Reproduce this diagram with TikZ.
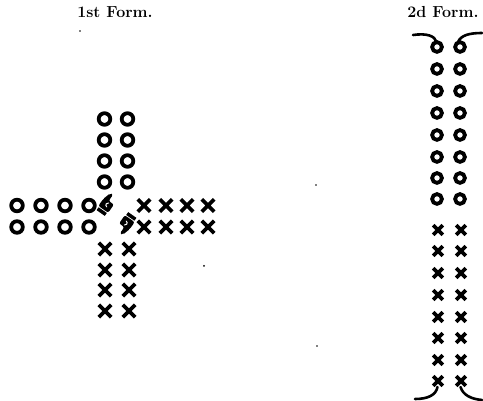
\documentclass[tikz,border=0pt]{standalone}
\usetikzlibrary{positioning}
\tikzset{
  % bold printer's marks, drawn in pixel units
  every picture/.append style = {x=1pt, y=-1pt, line cap=round},
  ring/.style      = {line width=3.8pt},
  crossline/.style = {line width=3.8pt, line cap=butt},
  curl/.style      = {line width=2.6pt, line cap=round},
  formtitle/.style = {font=\fontsize{16}{18}\selectfont\bfseries, inner sep=0pt},
  handmark/.style  = {fill=black, line join=round},
  speck/.style     = {fill=black},
}
\newcommand{\ringat}[3][5.8]{\draw[ring] (#2,#3) circle[radius=#1];}
\newcommand{\crossat}[3][6.2]{\draw[crossline] (#2-#1,#3-#1) -- (#2+#1,#3+#1)
                                            (#2-#1,#3+#1) -- (#2+#1,#3-#1);}
% a pointing hand, finger along +x, centred on the origin
\newcommand{\manicule}{%
  \fill[handmark] (-11,-5) rectangle (-7.5,5);
  \fill[handmark, rounded corners=2pt] (-6.5,-6) -- (2,-6) -- (11,-3.4)
       -- (11,-0.4) -- (3.5,-0.4) -- (3.5,6) -- (-6.5,6) -- cycle;
  \draw[white, line width=1pt] (-2.5,1.5) arc[start angle=180, end angle=340, radius=2.2];
}
\begin{document}
\begin{tikzpicture}
  \useasboundingbox (0,0) rectangle (483,401);
  % titles
  \node[formtitle] (title1) at (115,12) {1st Form.};
  \node[formtitle] (title2) at (443,12) {2d Form.};
  % 1st form: the cross
  \foreach \y in {119,140,161,182} {
    \ringat{104.5}{\y}
    \ringat{127.5}{\y}
  }
  \foreach \x in {17,41,65,89} {
    \ringat{\x}{205.5}
    \ringat{\x}{227}
  }
  \foreach \x in {144,166,187,208} {
    \crossat{\x}{205.5}
    \crossat{\x}{227}
  }
  \foreach \y in {249,270,290,311} {
    \crossat{105}{\y}
    \crossat{129}{\y}
  }
  % the two hands in the middle
  \begin{scope}[shift={(107,204)}, rotate=55]
    \manicule
  \end{scope}
  \begin{scope}[shift={(126,224)}, rotate=235]
    \manicule
  \end{scope}
  % 2d form: the column
  \begin{scope}
    \foreach \y in {47,69,91,113,135,157,178,199} {
      \ringat[4.9]{437}{\y}
      \ringat[4.9]{460}{\y}
    }
    \foreach \y in {230,251,273,295,317,338,360,381} {
      \crossat[4.8]{438}{\y}
      \crossat[4.8]{461}{\y}
    }
    \draw[curl] (413,35) .. controls (427,33) and (435,36) .. (436.5,42);
    \draw[curl] (458,42) .. controls (461,35) and (470,33) .. (482,33);
    \draw[curl] (415,399) .. controls (428,399) and (436,395) .. (437.5,387);
    \draw[curl] (460.5,387) .. controls (463,395) and (471,399) .. (482,400);
  \end{scope}
  % specks of the print
  \fill[speck] (80,31) circle[radius=0.8];
  \fill[speck] (204,266) circle[radius=1];
  \fill[speck] (316,185) circle[radius=0.8];
  \fill[speck] (317,346) circle[radius=0.8];
\end{tikzpicture}
\end{document}
